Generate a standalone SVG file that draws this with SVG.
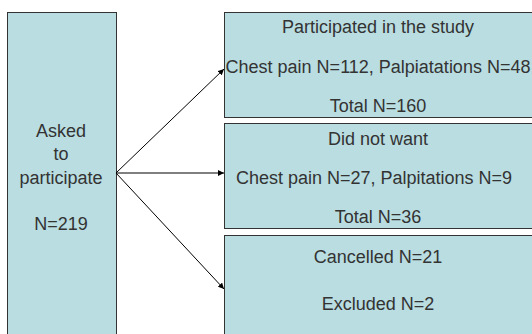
<svg xmlns="http://www.w3.org/2000/svg" width="532" height="334" viewBox="0 0 532 334">
<style>
.box{fill:#b9dde1;stroke:#333;stroke-width:1}
text{font-family:"Liberation Sans",Arial,sans-serif;font-size:18px;fill:#333;text-anchor:middle}
.c{fill:none;stroke:#000;stroke-width:1}
</style>
<defs>
<marker id="ah" viewBox="0 0 10 10" refX="10" refY="5" markerWidth="6" markerHeight="6" orient="auto" markerUnits="userSpaceOnUse">
<path d="M0,0 L10,5 L0,10 z" fill="#000"/>
</marker>
</defs>
<rect width="532" height="334" fill="#fff"/>
<g id="asked">
<rect class="box" x="7.5" y="12.5" width="109" height="330"/>
<text x="61" y="137">Asked</text>
<text x="61" y="160">to</text>
<text x="61" y="184">participate</text>
<text x="61" y="230">N=219</text>
</g>
<g id="participated">
<rect class="box" x="224.5" y="12.5" width="320" height="105"/>
<text x="378" y="33">Participated in the study</text>
<text x="378" y="73">Chest pain N=112, Palpiatations N=48</text>
<text x="378" y="112">Total N=160</text>
</g>
<g id="didnotwant">
<rect class="box" x="224.5" y="123.5" width="320" height="105"/>
<text x="378" y="145">Did not want</text>
<text x="374" y="184">Chest pain N=27, Palpitations N=9</text>
<text x="378" y="223">Total N=36</text>
</g>
<g id="cancelled">
<rect class="box" x="224.5" y="235.5" width="320" height="110"/>
<text x="378" y="263">Cancelled N=21</text>
<text x="378" y="310">Excluded N=2</text>
</g>
<g id="connectors">
<line class="c" x1="116" y1="173" x2="224" y2="69" marker-end="url(#ah)"/>
<line class="c" x1="116" y1="173" x2="224" y2="173" marker-end="url(#ah)"/>
<line class="c" x1="116" y1="173" x2="224" y2="289" marker-end="url(#ah)"/>
</g>
</svg>
